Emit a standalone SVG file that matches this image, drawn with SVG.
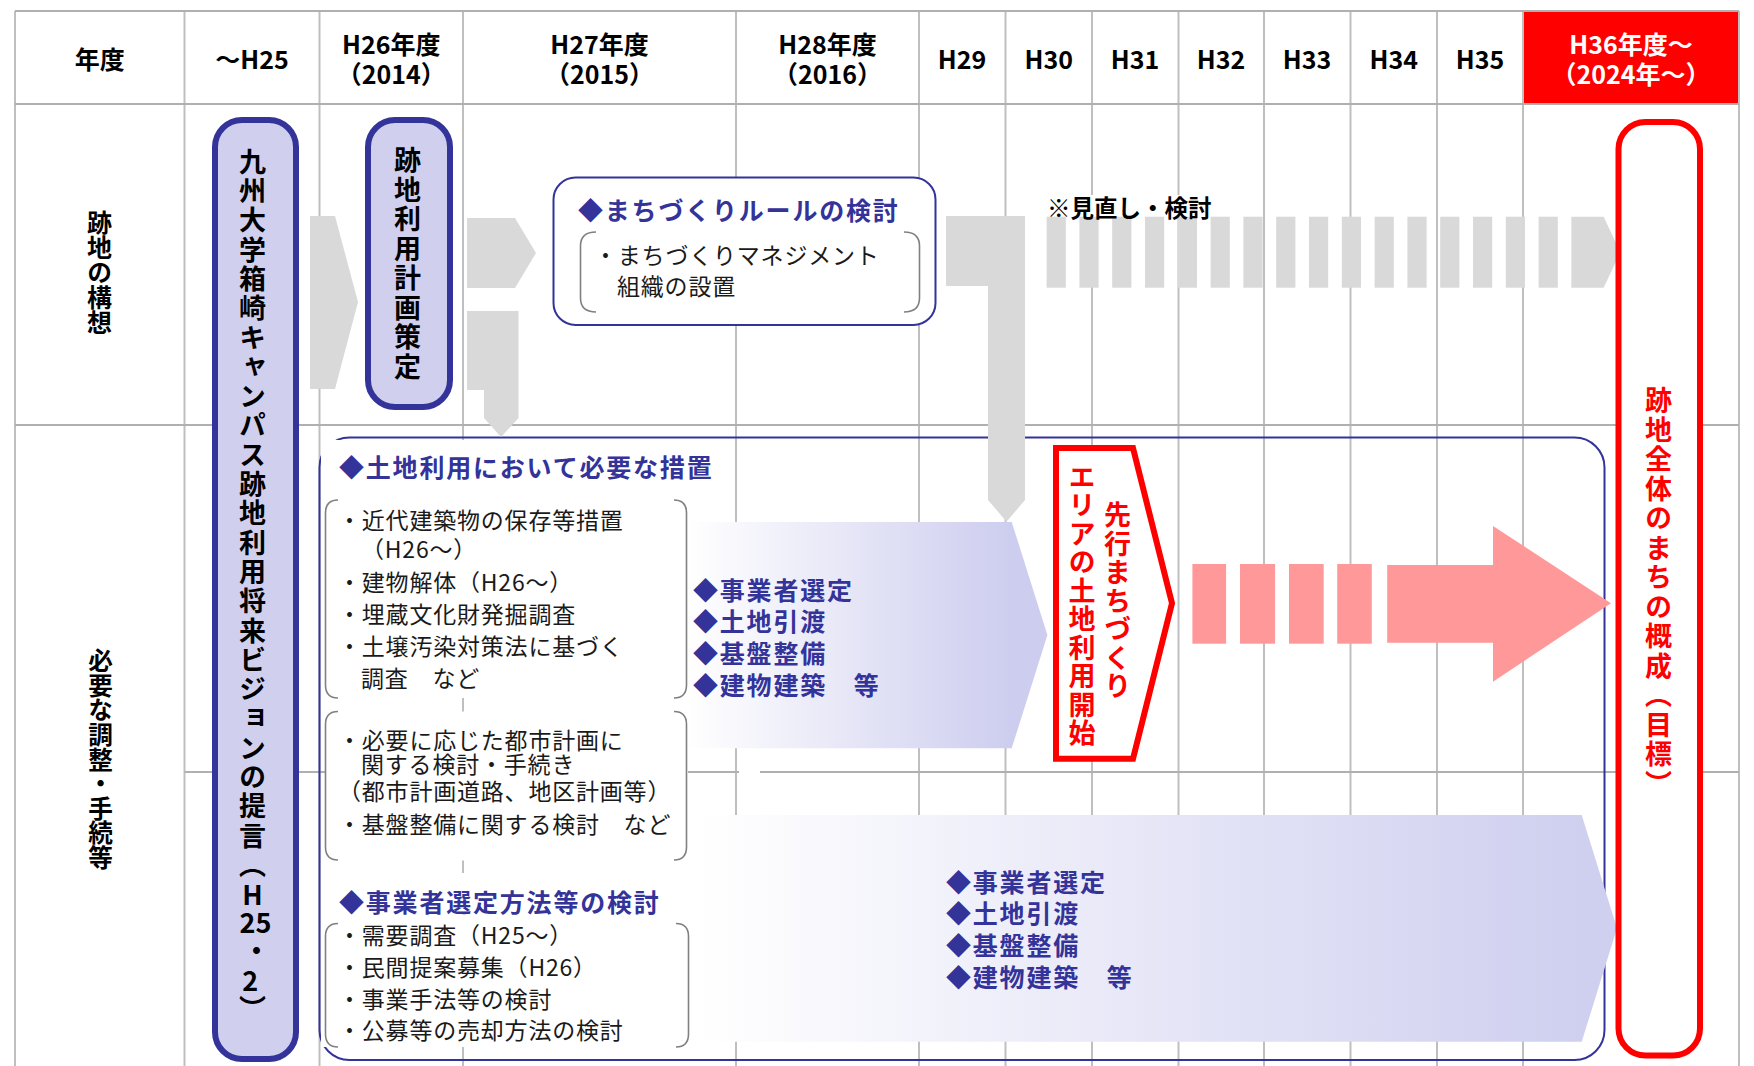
<svg xmlns="http://www.w3.org/2000/svg" width="1754" height="1066" viewBox="0 0 1754 1066">
<style>
text{font-family:'Noto Sans CJK JP','Noto Sans CJK SC',sans-serif;}
.gv{stroke:#bfbfbf;stroke-width:2;}
.gh{stroke:#b0b0b0;stroke-width:2;}
.hd{font-size:25px;font-weight:700;fill:#000;text-anchor:middle;}
.hw{font-size:25px;font-weight:700;fill:#fff;text-anchor:middle;}
.vt{writing-mode:vertical-rl;font-weight:700;}
.lbl{font-size:25px;fill:#000;}
.bx{fill:#d0d0ee;stroke:#333399;stroke-width:6;}
.rb{fill:#fff;stroke:#ff0000;stroke-width:6;}
.ti{font-size:25px;font-weight:700;fill:#333399;letter-spacing:1.8px;}
.li{font-size:23px;font-weight:400;fill:#1a1a1a;letter-spacing:0.8px;}
.br{fill:none;stroke:#808080;stroke-width:1.6;}
.gray{fill:#d9d9d9;}
.pink{fill:#ff9999;}
.wb{fill:#fff;}
</style>
<defs>
<linearGradient id="g1" gradientUnits="userSpaceOnUse" x1="688" y1="0" x2="1012" y2="0">
<stop offset="0" stop-color="#ffffff"/><stop offset="1" stop-color="#cdcdef"/>
</linearGradient>
<linearGradient id="g2" gradientUnits="userSpaceOnUse" x1="700" y1="0" x2="1582" y2="0">
<stop offset="0" stop-color="#ffffff"/><stop offset="1" stop-color="#cfcff0"/>
</linearGradient>
</defs>
<rect x="0" y="0" width="1754" height="1066" fill="#fff"/>

<g id="grid">
<rect x="1523" y="11" width="216" height="93" fill="#ff0000"/>
<line class="gv" x1="15" y1="11" x2="15" y2="1066"/>
<line class="gv" x1="184.5" y1="11" x2="184.5" y2="1066"/>
<line class="gv" x1="319.5" y1="11" x2="319.5" y2="1066"/>
<line class="gv" x1="463" y1="11" x2="463" y2="1066"/>
<line class="gv" x1="736" y1="11" x2="736" y2="1066"/>
<line class="gv" x1="919" y1="11" x2="919" y2="1066"/>
<line class="gv" x1="1005.5" y1="11" x2="1005.5" y2="1066"/>
<line class="gv" x1="1092" y1="11" x2="1092" y2="1066"/>
<line class="gv" x1="1178.5" y1="11" x2="1178.5" y2="1066"/>
<line class="gv" x1="1264" y1="11" x2="1264" y2="1066"/>
<line class="gv" x1="1350.5" y1="11" x2="1350.5" y2="1066"/>
<line class="gv" x1="1437" y1="11" x2="1437" y2="1066"/>
<line class="gv" x1="1523" y1="11" x2="1523" y2="1066"/>
<line class="gv" x1="1739" y1="11" x2="1739" y2="1066"/>
<line class="gh" x1="15" y1="11" x2="1739" y2="11"/>
<line class="gh" x1="15" y1="104" x2="1739" y2="104"/>
<line class="gh" x1="15" y1="425" x2="1739" y2="425"/>
<line class="gh" x1="184.5" y1="772" x2="1739" y2="772"/>
</g>

<g id="header">
<text class="hd" x="99.75" y="69">年度</text>
<text class="hd" x="252" y="69">～H25</text>
<text class="hd" x="391.25" y="54">H26年度</text>
<text class="hd" x="391.25" y="84">（2014）</text>
<text class="hd" x="599.5" y="54">H27年度</text>
<text class="hd" x="599.5" y="84">（2015）</text>
<text class="hd" x="827.5" y="54">H28年度</text>
<text class="hd" x="827.5" y="84">（2016）</text>
<text class="hd" x="962" y="68.5">H29</text>
<text class="hd" x="1048.75" y="68.5">H30</text>
<text class="hd" x="1135" y="68.5">H31</text>
<text class="hd" x="1221" y="68.5">H32</text>
<text class="hd" x="1307" y="68.5">H33</text>
<text class="hd" x="1393.75" y="68.5">H34</text>
<text class="hd" x="1480" y="68.5">H35</text>
<text class="hw" x="1631" y="54">H36年度～</text>
<text class="hw" x="1631" y="84">（2024年～）</text>
</g>

<g id="row-labels">
<text class="vt lbl" x="99.5" y="210">跡地の構想</text>
<text class="vt lbl" x="100.5" y="648.5" style="font-size:24.6px">必要な調整・手続等</text>
</g>

<g id="measures-container">
<rect x="319.5" y="437.5" width="1285" height="622.5" rx="30" fill="none" stroke="#333399" stroke-width="2"/>
</g>

<g id="measures-list">
<rect class="wb" x="321" y="440" width="368" height="258"/>
<rect class="wb" x="325" y="711.5" width="363" height="149"/>
<rect class="wb" x="321" y="873" width="370" height="174"/>
<rect class="wb" x="739" y="748" width="21" height="67"/>
<text class="ti" x="339" y="476.5">◆土地利用において必要な措置</text>
<path class="br" d="M338,500 Q325.5,500 325.5,513 L325.5,685 Q325.5,698 338,698"/>
<path class="br" d="M674,500 Q686.5,500 686.5,513 L686.5,685 Q686.5,698 674,698"/>
<text class="li" x="338" y="528.5">・近代建築物の保存等措置</text>
<text class="li" x="361" y="558">（H26～）</text>
<text class="li" x="338" y="591">・建物解体（H26～）</text>
<text class="li" x="338" y="622.5">・埋蔵文化財発掘調査</text>
<text class="li" x="338" y="654.5">・土壌汚染対策法に基づく</text>
<text class="li" x="361" y="686.5">調査　など</text>
<path class="br" d="M338,711.5 Q325.5,711.5 325.5,724.5 L325.5,847 Q325.5,860 338,860"/>
<path class="br" d="M674,711.5 Q686.5,711.5 686.5,724.5 L686.5,847 Q686.5,860 674,860"/>
<text class="li" x="338" y="748.5">・必要に応じた都市計画に</text>
<text class="li" x="361" y="772.5">関する検討・手続き</text>
<text class="li" x="338" y="800">（都市計画道路、地区計画等）</text>
<text class="li" x="338" y="832.5">・基盤整備に関する検討　など</text>
<text class="ti" x="339" y="911.5">◆事業者選定方法等の検討</text>
<path class="br" d="M338,923.5 Q325.5,923.5 325.5,936.5 L325.5,1034 Q325.5,1047 338,1047"/>
<path class="br" d="M676,923.5 Q688.5,923.5 688.5,936.5 L688.5,1034 Q688.5,1047 676,1047"/>
<text class="li" x="338" y="943.5">・需要調査（H25～）</text>
<text class="li" x="338" y="975.5">・民間提案募集（H26）</text>
<text class="li" x="338" y="1007.5">・事業手法等の検討</text>
<text class="li" x="338" y="1039">・公募等の売却方法の検討</text>
</g>

<g id="flow-leading">
<polygon points="688,522 1011.7,522 1047.4,635 1011.7,748.3 688,748.3" fill="url(#g1)"/>
<text class="ti" x="693" y="600">◆事業者選定</text>
<text class="ti" x="693" y="631">◆土地引渡</text>
<text class="ti" x="693" y="662.5">◆基盤整備</text>
<text class="ti" x="693" y="694.5">◆建物建築　等</text>
</g>

<g id="flow-whole">
<polygon points="700,815 1581.7,815 1617,928.3 1581.7,1041.7 700,1041.7" fill="url(#g2)"/>
<text class="ti" x="946" y="891.5">◆事業者選定</text>
<text class="ti" x="946" y="923">◆土地引渡</text>
<text class="ti" x="946" y="955">◆基盤整備</text>
<text class="ti" x="946" y="986.5">◆建物建築　等</text>
</g>

<g id="connectors">
<polygon class="gray" points="310,216 335,216 358,302 335,389 310,389"/>
<polygon class="gray" points="467,218 515,218 536,253 515,288 467,288"/>
<polygon class="gray" points="467,311 518.5,311 518.5,418 501,437 484,418 484,390 467,390"/>
<polygon class="gray" points="946,216 1025,216 1025,500 1006.5,521.7 988,500 988,286 946,286"/>
<g class="gray">
<rect x="1046.6" y="216.7" width="19.2" height="71"/>
<rect x="1079.4" y="216.7" width="19.2" height="71"/>
<rect x="1112.2" y="216.7" width="19.2" height="71"/>
<rect x="1145.0" y="216.7" width="19.2" height="71"/>
<rect x="1177.8" y="216.7" width="19.2" height="71"/>
<rect x="1210.6" y="216.7" width="19.2" height="71"/>
<rect x="1243.4" y="216.7" width="19.2" height="71"/>
<rect x="1276.2" y="216.7" width="19.2" height="71"/>
<rect x="1309.0" y="216.7" width="19.2" height="71"/>
<rect x="1341.8" y="216.7" width="19.2" height="71"/>
<rect x="1374.6" y="216.7" width="19.2" height="71"/>
<rect x="1407.4" y="216.7" width="19.2" height="71"/>
<rect x="1440.2" y="216.7" width="19.2" height="71"/>
<rect x="1473.0" y="216.7" width="19.2" height="71"/>
<rect x="1505.8" y="216.7" width="19.2" height="71"/>
<rect x="1538.6" y="216.7" width="19.2" height="71"/>
<polygon points="1571.3,216.7 1603.6,216.7 1620.4,252.2 1603.6,287.7 1571.3,287.7"/>
</g>
<rect class="wb" x="1045" y="195" width="172" height="21"/>
<text x="1047" y="216.5" style="font-size:23.5px;font-weight:700;fill:#000">※見直し・検討</text>
<g class="pink">
<rect x="1192.4" y="564" width="33.7" height="79.7"/>
<rect x="1240" y="564" width="35.1" height="79.7"/>
<rect x="1289" y="564" width="34.7" height="79.7"/>
<rect x="1337.2" y="564" width="34.6" height="79.7"/>
<polygon points="1387.2,565 1493,565 1493,526 1611,603.3 1493,681.7 1493,642.7 1387.2,642.7"/>
</g>
</g>

<g id="node-vision">
<rect class="bx" x="215" y="120" width="81" height="939" rx="27"/>
<text class="vt" x="252.5" y="148" style="font-size:27px;letter-spacing:2.3px;fill:#000">九州大学箱崎キャンパス跡地利用将来ビジョンの提言（</text>
<text style="font-size:27px;font-weight:700;fill:#000"><tspan x="242.3" y="905">H</tspan><tspan x="239.5" y="933">25</tspan><tspan x="243" y="961">・</tspan><tspan x="242.3" y="991">2</tspan></text>
<text class="vt" x="252.5" y="995" style="font-size:27px;fill:#000">）</text>
</g>

<g id="node-plan">
<rect class="bx" x="368" y="120" width="82" height="287" rx="27"/>
<text class="vt" x="407.5" y="146.5" style="font-size:27px;letter-spacing:2.5px;fill:#000">跡地利用計画策定</text>
</g>

<g id="node-rules">
<rect x="553.5" y="177.5" width="382" height="147.5" rx="22" fill="#fff" stroke="#333399" stroke-width="2"/>
<text class="ti" x="578" y="220">◆まちづくりルールの検討</text>
<path class="br" d="M596,232 Q580.5,232 580.5,246 L580.5,298 Q580.5,312 596,312"/>
<path class="br" d="M904,232 Q919.5,232 919.5,246 L919.5,298 Q919.5,312 904,312"/>
<text class="li" x="594" y="263.5">・まちづくりマネジメント</text>
<text class="li" x="617" y="295">組織の設置</text>
</g>

<g id="node-leading">
<polygon class="rb" points="1056,448 1133,448 1172,603.3 1133,758.7 1056,758.7"/>
<text class="vt" x="1117.5" y="501.5" style="font-size:27px;letter-spacing:1.5px;fill:#ff0000">先行まちづくり</text>
<text class="vt" x="1082" y="463" style="font-size:27px;letter-spacing:1.5px;fill:#ff0000">エリアの土地利用開始</text>
</g>

<g id="node-goal">
<rect class="rb" x="1618.5" y="122" width="81.5" height="933.5" rx="27"/>
<text class="vt" x="1658.5" y="386.5" style="font-size:27px;letter-spacing:2.5px;fill:#ff0000">跡地全体のまちの概成（目標）</text>
</g>
</svg>
